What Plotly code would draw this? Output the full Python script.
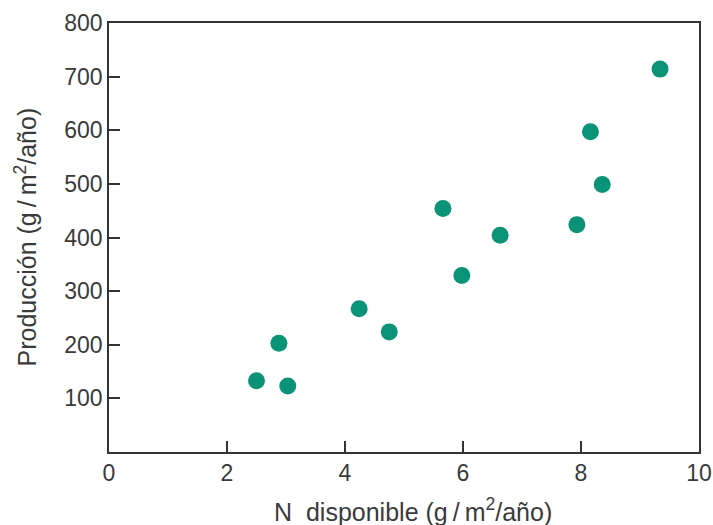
import plotly.graph_objects as go

n_disponible = [2.50, 2.88, 3.03, 4.24, 4.75, 5.66, 5.98, 6.63, 7.93, 8.16, 8.36, 9.34]
produccion = [133, 203, 123, 267, 224, 454, 329, 404, 424, 597, 499, 714]

x_ticks = [0, 2, 4, 6, 8, 10]
y_ticks = [100, 200, 300, 400, 500, 600, 700, 800]

x_title = "N  disponible (g\u2009/\u2009m<sup>2</sup>/año)"
y_title = "Producción (g\u2009/\u2009m<sup>2</sup>/año)"

fig = go.Figure(go.Scatter(
    x=n_disponible, y=produccion, mode="markers",
    marker=dict(size=17, color="#0b9378", line=dict(width=0)),
))

tick_font = dict(family="Liberation Sans, Arial, sans-serif", size=23, color="#3a3a3a")
title_font = dict(family="Liberation Sans, Arial, sans-serif", size=25, color="#3a3a3a")

fig.update_layout(
    width=713, height=525,
    margin=dict(l=109, r=14, t=23, b=73),
    paper_bgcolor="white", plot_bgcolor="white",
    showlegend=False,
    font=tick_font,
)
axis_common = dict(
    ticks="inside", ticklen=11, tickwidth=1.5, tickcolor="#333333",
    showline=True, linecolor="#333333", linewidth=1.5, mirror=True,
    showgrid=False, zeroline=False, automargin=False, tickfont=tick_font,
)
fig.update_xaxes(range=[0, 10], tickvals=x_ticks, **axis_common)
fig.update_yaxes(range=[0, 800], tickvals=y_ticks, **axis_common)

fig.add_annotation(text=x_title, xref="paper", yref="paper", x=0.5, y=0,
                   xanchor="center", yanchor="middle", xshift=9, yshift=-58,
                   showarrow=False, font=title_font)
fig.add_annotation(text=y_title, xref="paper", yref="paper", x=0, y=0.5,
                   xanchor="center", yanchor="middle", xshift=-84, textangle=-90,
                   showarrow=False, font=title_font)

fig.write_html(
    "out.html",
    config={"displayModeBar": False},
    post_script="document.body.style.margin='0';document.body.style.padding='0';",
)
